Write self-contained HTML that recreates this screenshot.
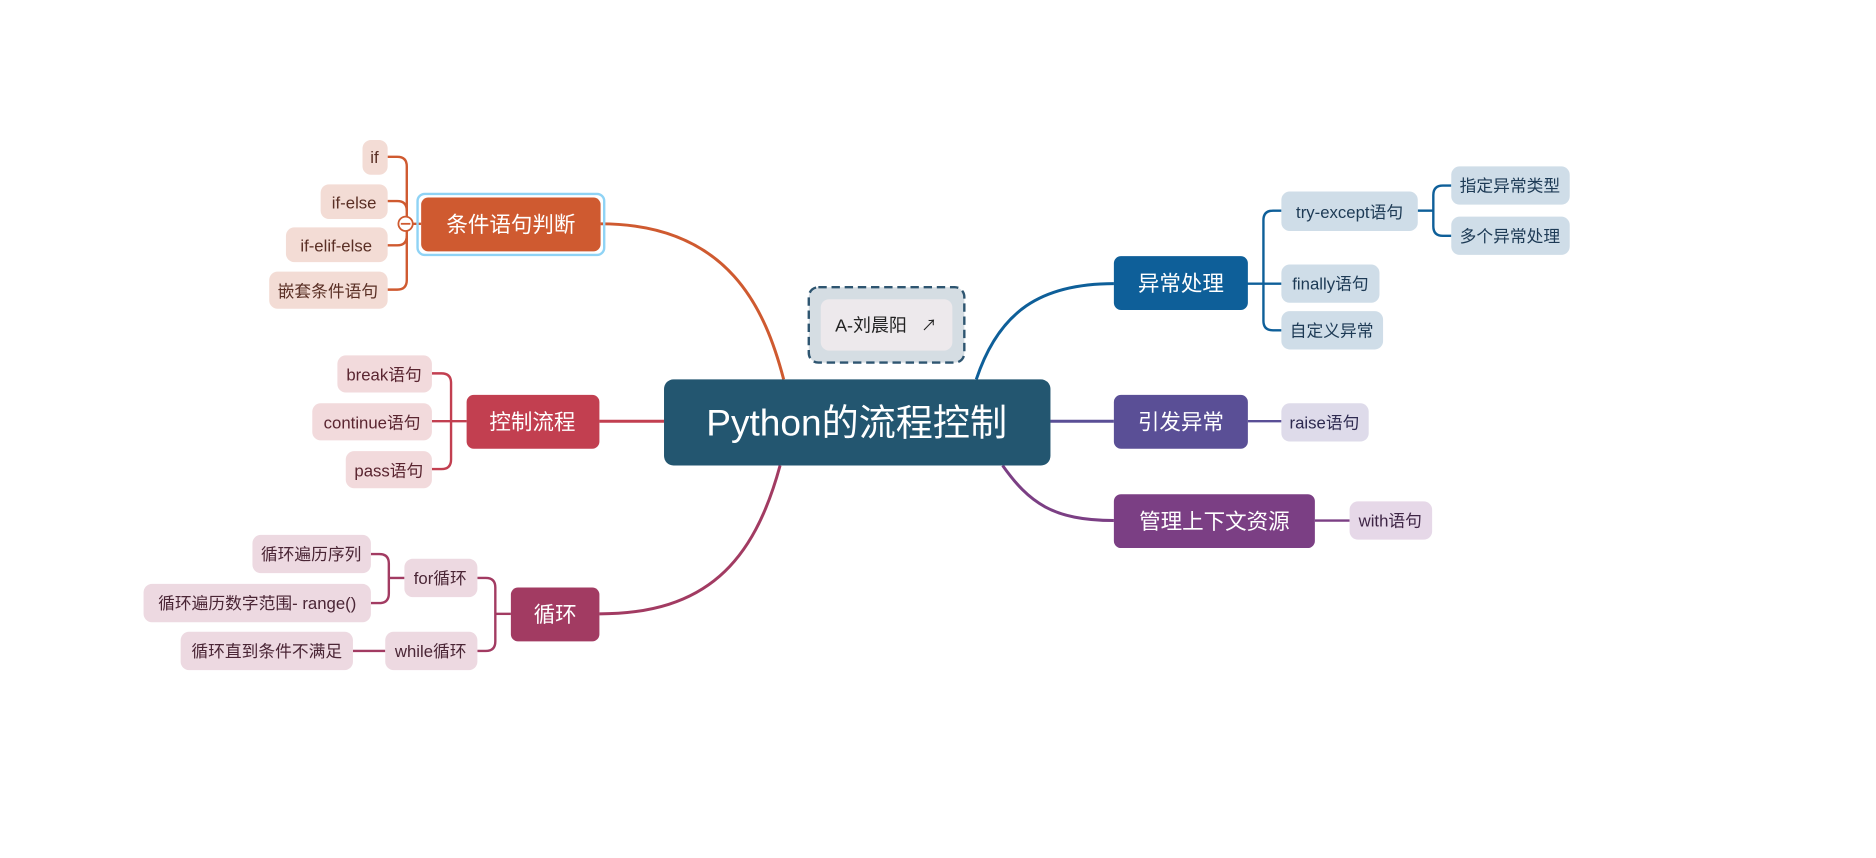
<!DOCTYPE html>
<html><head><meta charset="utf-8"><style>
html,body{margin:0;padding:0;background:#fff;width:1876px;height:858px;overflow:hidden}
svg text{font-family:"Liberation Sans","Noto Sans CJK SC",sans-serif}
</style></head><body>
<svg width="1876" height="858" viewBox="0 0 1568 717" xmlns="http://www.w3.org/2000/svg">
<g fill="none" stroke-width="2.5">
<path d="M502,187 C610,187 640,260 655,317" stroke="#cf5a30"/>
<path d="M501,352 L555,352" stroke="#c23f50"/>
<path d="M652,389 C630,470 590,513 501,513" stroke="#a23b62"/>
<path d="M816,317 C835,260 870,237 931,237" stroke="#0e5f99"/>
<path d="M878,352 L931,352" stroke="#5a4f96"/>
<path d="M838,389 C860,420 880,435 931,435" stroke="#7b3f84"/>
</g>
<g fill="none" stroke-width="2">
<g stroke="#cf5a30"><path d="M352,187 H340"/><path d="M324,131 H332 Q340,131 340,139 V234 Q340,242 332,242 H324"/><path d="M324,168 H332 Q340,168 340,176"/><path d="M324,205 H332 Q340,205 340,197"/></g>
<g stroke="#c23f50"><path d="M390,352 H361"/><path d="M361,312 H369 Q377,312 377,320 V384 Q377,392 369,392 H361"/></g>
<g stroke="#a23b62"><path d="M427,513 H414"/><path d="M399,483 H406 Q414,483 414,491 V536 Q414,544 406,544 H399"/>
<path d="M338,483 H325"/><path d="M310,463 H317 Q325,463 325,471 V496 Q325,504 317,504 H310"/><path d="M322,544 H295"/></g>
<g stroke="#0e5f99"><path d="M931,237 H1056"/><path d="M1071,176 H1064 Q1056,176 1056,184 V268 Q1056,276 1064,276 H1071"/><path d="M1056,237 H1071"/>
<path d="M1185,176 H1198"/><path d="M1213,155 H1206 Q1198,155 1198,163 V189 Q1198,197 1206,197 H1213"/></g>
<path d="M1043,352 H1071" stroke="#5a4f96"/>
<path d="M1099,435 H1128" stroke="#7b3f84"/>
</g>
<circle cx="339" cy="187" r="6" fill="#fff" stroke="#cf5a30" stroke-width="1.5"/><path d="M335,187 H343" stroke="#cf5a30" stroke-width="1.5"/>
<!-- central -->
<rect x="555" y="317" width="323" height="72" rx="8" fill="#235670"/>
<text x="716" y="364" font-size="31" fill="#fff" text-anchor="middle">Python的流程控制</text>
<rect x="676" y="240" width="130" height="63" rx="8" fill="#d5dde3" stroke="#2e5570" stroke-width="2" stroke-dasharray="7,4"/>
<rect x="686" y="250" width="110" height="43" rx="7" fill="#ede9ec"/>
<text x="698" y="277" font-size="15" fill="#222">A-刘晨阳</text>
<text x="770" y="276" font-size="13" fill="#222">↗</text>
<!-- main branches -->
<rect x="349" y="162" width="156" height="51" rx="6" fill="none" stroke="#8fd3f5" stroke-width="2"/>
<rect x="352" y="165" width="150" height="45" rx="6" fill="#cf5a30"/>
<text x="427" y="194" font-size="18" fill="#fff" text-anchor="middle">条件语句判断</text>
<rect x="390" y="330" width="111" height="45" rx="6" fill="#c23f50"/>
<text x="445" y="359" font-size="18" fill="#fff" text-anchor="middle">控制流程</text>
<rect x="427" y="491" width="74" height="45" rx="6" fill="#a23b62"/>
<text x="464" y="520" font-size="18" fill="#fff" text-anchor="middle">循环</text>
<rect x="931" y="214" width="112" height="45" rx="6" fill="#0e5f99"/>
<text x="987" y="243" font-size="18" fill="#fff" text-anchor="middle">异常处理</text>
<rect x="931" y="330" width="112" height="45" rx="6" fill="#5a4f96"/>
<text x="987" y="359" font-size="18" fill="#fff" text-anchor="middle">引发异常</text>
<rect x="931" y="413" width="168" height="45" rx="6" fill="#7b3f84"/>
<text x="1015" y="442" font-size="18" fill="#fff" text-anchor="middle">管理上下文资源</text>
<!-- leaves -->
<g font-size="14" text-anchor="middle">
<g fill="#f3dcd5"><rect x="303" y="117" width="21" height="29" rx="7"/><rect x="268" y="154" width="56" height="29" rx="7"/><rect x="239" y="190" width="85" height="29" rx="7"/><rect x="225" y="227" width="99" height="31" rx="7"/></g>
<g fill="#5a2f25"><text x="313" y="136">if</text><text x="296" y="174">if-else</text><text x="281" y="210">if-elif-else</text><text x="274" y="248">嵌套条件语句</text></g>
<g fill="#f2dadc"><rect x="282" y="297" width="79" height="31" rx="7"/><rect x="261" y="337" width="100" height="31" rx="7"/><rect x="289" y="377" width="72" height="31" rx="7"/></g>
<g fill="#5a2530"><text x="321" y="318">break语句</text><text x="311" y="358">continue语句</text><text x="325" y="398">pass语句</text></g>
<g fill="#edd9e1"><rect x="338" y="467" width="61" height="32" rx="7"/><rect x="322" y="528" width="77" height="32" rx="7"/><rect x="211" y="447" width="99" height="32" rx="7"/><rect x="120" y="488" width="190" height="32" rx="7"/><rect x="151" y="528" width="144" height="32" rx="7"/></g>
<g fill="#4a2535"><text x="368" y="488">for循环</text><text x="360" y="549">while循环</text><text x="260" y="468">循环遍历序列</text><text x="215" y="509">循环遍历数字范围- range()</text><text x="223" y="549">循环直到条件不满足</text></g>
<g fill="#cfdde8"><rect x="1071" y="160" width="114" height="33" rx="7"/><rect x="1071" y="221" width="82" height="32" rx="7"/><rect x="1071" y="260" width="85" height="32" rx="7"/><rect x="1213" y="139" width="99" height="32" rx="7"/><rect x="1213" y="181" width="99" height="32" rx="7"/></g>
<g fill="#1d3a55"><text x="1128" y="182">try-except语句</text><text x="1112" y="242">finally语句</text><text x="1113" y="281">自定义异常</text><text x="1262" y="160">指定异常类型</text><text x="1262" y="202">多个异常处理</text></g>
<rect x="1071" y="337" width="73" height="32" rx="7" fill="#dedbea"/><text x="1107" y="358" fill="#2e2a50">raise语句</text>
<rect x="1128" y="419" width="69" height="32" rx="7" fill="#e6d8e8"/><text x="1162" y="440" fill="#3e2545">with语句</text>
</g>
</svg>
</body></html>
